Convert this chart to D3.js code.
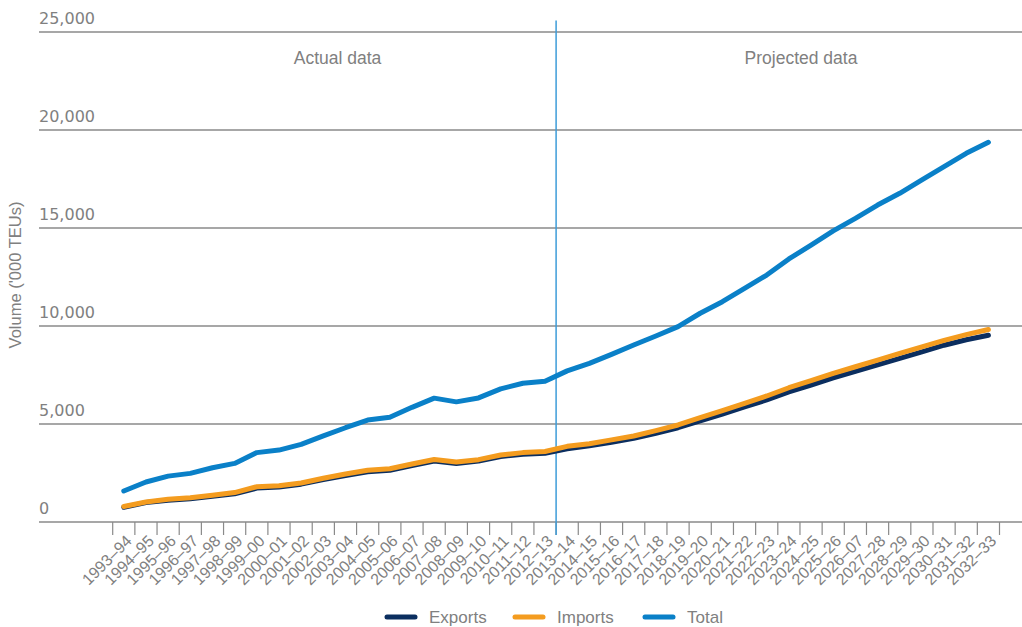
<!DOCTYPE html>
<html>
<head>
<meta charset="utf-8">
<script src="https://cdn.jsdelivr.net/npm/d3@7"></script>
<style>
	body { margin: 0; background: #ffffff; }
	text { font-family: "Liberation Sans", Arial, sans-serif; fill: #808080; }
	text.num { font-family: "DejaVu Sans", sans-serif; }
</style>
</head>
<body>
<div id="chart"></div>
<script>

// 年度（カテゴリ）
var years = ["1993–94","1994–95","1995–96","1996–97","1997–98","1998–99","1999–00","2000–01","2001–02","2002–03",
	"2003–04","2004–05","2005–06","2006–07","2007–08","2008–09","2009–10","2010–11","2011–12","2012–13",
	"2013–14","2014–15","2015–16","2016–17","2017–18","2018–19","2019–20","2020–21","2021–22","2022–23",
	"2023–24","2024–25","2025–26","2026–07","2027–28","2028–29","2029–30","2030–31","2031–32","2032–33"];

// 輸出 ('000 TEUs)
var exports = [750, 990, 1110, 1190, 1310, 1440, 1730, 1790, 1930, 2160,
	2370, 2560, 2640, 2880, 3110, 2990, 3110, 3340, 3460, 3510,
	3730, 3890, 4070, 4270, 4530, 4810, 5160, 5510, 5870, 6230,
	6640, 6990, 7350, 7690, 8020, 8350, 8680, 9020, 9300, 9530];

// 輸入 ('000 TEUs)
var imports = [790, 1020, 1160, 1240, 1360, 1500, 1800, 1850, 1990, 2230,
	2450, 2640, 2720, 2960, 3190, 3060, 3180, 3420, 3540, 3600,
	3860, 3990, 4190, 4390, 4660, 4950, 5320, 5680, 6050, 6430,
	6850, 7210, 7580, 7920, 8260, 8600, 8940, 9270, 9560, 9820];

// 合計 ('000 TEUs)
var totals = [1580, 2040, 2340, 2480, 2770, 2990, 3540, 3670, 3960, 4390,
	4810, 5200, 5340, 5850, 6320, 6130, 6330, 6790, 7080, 7180,
	7710, 8090, 8550, 9030, 9490, 9970, 10650, 11240, 11920, 12600,
	13420, 14130, 14850, 15490, 16170, 16770, 17450, 18130, 18810, 19370];

// 目盛り
var yTicks = [0, 5000, 10000, 15000, 20000, 25000];

var series = [
	{ name: "Exports", values: exports, color: "#0b2e5f" },
	{ name: "Imports", values: imports, color: "#f49c1f" },
	{ name: "Total", values: totals, color: "#0a80c8" }
];

var W = 1022, H = 627;
var gridLeft = 39;

var svg = d3.select("#chart").append("svg")
	.attr("width", W)
	.attr("height", H);

var x = d3.scaleBand()
	.domain(years)
	.range([112.7, 999.5])
	.padding(0);

var y = d3.scaleLinear()
	.domain([0, 25000])
	.range([522, 32]);

// グリッド線
svg.selectAll(".grid")
	.data(yTicks)
	.enter().append("line")
	.attr("x1", gridLeft)
	.attr("x2", W)
	.attr("y1", function(d) { return y(d); })
	.attr("y2", function(d) { return y(d); })
	.style("stroke", "#8a8a8a")
	.style("stroke-width", 1.5);

// Y軸ラベル
svg.selectAll(".ylabel")
	.data(yTicks)
	.enter().append("text")
	.attr("class", "num")
	.attr("x", gridLeft)
	.attr("y", function(d) { return y(d) - 8; })
	.style("font-size", "16px")
	.text(function(d) { return d3.format(",")(d); });

// X軸の目盛り線（バンドの境界）
var bounds = years.map(function(d) { return x(d); }).concat([x.range()[1]]);
svg.selectAll(".xtick")
	.data(bounds)
	.enter().append("line")
	.attr("x1", function(d) { return d; })
	.attr("x2", function(d) { return d; })
	.attr("y1", y(0))
	.attr("y2", y(0) + 13)
	.style("stroke", "#8a8a8a")
	.style("stroke-width", 1.2);

// X軸ラベル
svg.selectAll(".xlabel")
	.data(years)
	.enter().append("text")
	.attr("transform", function(d) {
		return "translate(" + (x(d) + x.bandwidth() / 2 + 9) + "," + 542 + ") rotate(-45)";
	})
	.style("text-anchor", "end")
	.style("font-size", "16px")
	.text(function(d) { return d; });

// 実績／予測の境界線
var splitX = x("2013–14");
svg.append("line")
	.attr("x1", splitX)
	.attr("x2", splitX)
	.attr("y1", 20.5)
	.attr("y2", y(0) + 13)
	.style("stroke", "#3d9cd9")
	.style("stroke-width", 1.5);

svg.append("text")
	.attr("x", (gridLeft + splitX) / 2 + 40)
	.attr("y", 64)
	.style("text-anchor", "middle")
	.style("font-size", "17.5px")
	.text("Actual data");

svg.append("text")
	.attr("x", 801)
	.attr("y", 64)
	.style("text-anchor", "middle")
	.style("font-size", "17.5px")
	.text("Projected data");

// Y軸タイトル
svg.append("text")
	.attr("transform", "translate(21,275) rotate(-90)")
	.style("text-anchor", "middle")
	.style("font-size", "16.5px")
	.text("Volume ('000 TEUs)");

// 折れ線
var line = d3.line()
	.x(function(d, i) { return x(years[i]) + x.bandwidth() / 2; })
	.y(function(d) { return y(d); });

svg.selectAll(".series")
	.data(series)
	.enter().append("path")
	.attr("d", function(d) { return line(d.values); })
	.style("fill", "none")
	.style("stroke", function(d) { return d.color; })
	.style("stroke-width", 5)
	.style("stroke-linecap", "round")
	.style("stroke-linejoin", "round");

// 凡例
var legendX = [385, 513, 643];
var legend = svg.selectAll(".legend")
	.data(series)
	.enter().append("g")
	.attr("transform", function(d, i) { return "translate(" + legendX[i] + ",617)"; });

legend.append("line")
	.attr("x1", 2)
	.attr("x2", 30)
	.style("stroke", function(d) { return d.color; })
	.style("stroke-width", 5)
	.style("stroke-linecap", "round");

legend.append("text")
	.attr("x", 44)
	.attr("y", 6)
	.style("font-size", "17px")
	.text(function(d) { return d.name; });

</script>
</body>
</html>
